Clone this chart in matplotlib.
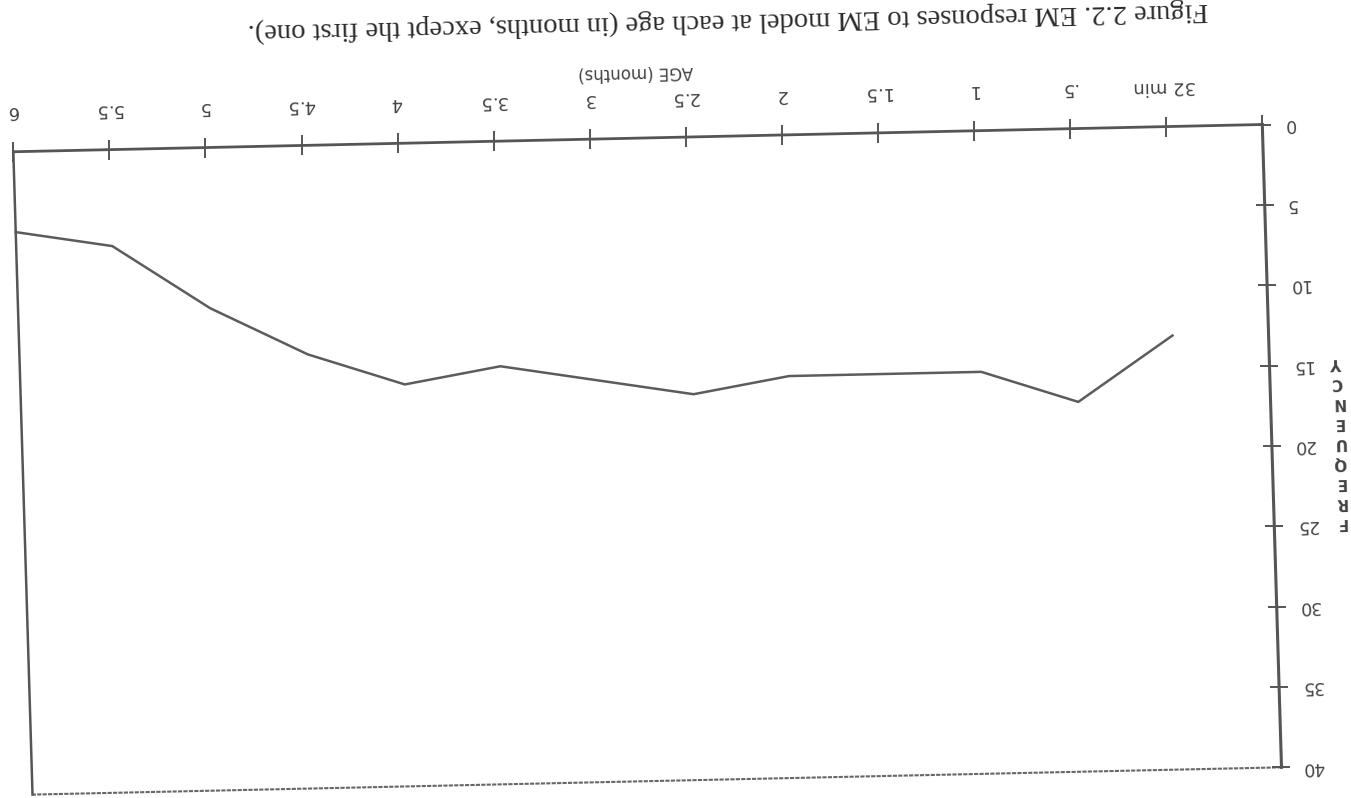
"""
Figure 2.2 -- EM responses to EM model at each age.
The reference is a scanned page that sits upside down (and slightly askew),
so the whole chart is drawn through one page transform.
"""
import numpy as np
import matplotlib.pyplot as plt
from matplotlib.transforms import Affine2D

ages = ["32 min", ".5", "1", "1.5", "2", "2.5", "3", "3.5", "4", "4.5", "5", "5.5", "6"]
freq = [13, 17, 15, 15, 15, 16, 15, 14, 15, 13, 10, 6, 5]
freq_ticks = [0, 5, 10, 15, 20, 25, 30, 35, 40]
title = "Figure 2.2. EM responses to EM model at each age (in months, except the first one)."

INK = "#555555"
TXT = "#444444"


def main():
    x_pos = np.arange(1, len(ages) + 1)
    xmax, ymax = len(ages), freq_ticks[-1]

    fig = plt.figure(figsize=(13.51, 7.98), dpi=100)
    ax = fig.add_axes([0.0097, 0.0381, 0.9247, 0.8059])
    ax.set_xlim(0, xmax)
    ax.set_ylim(0, ymax)
    ax.axis("off")

    # page is upside down, turned ~1.25 deg more and a bit sheared by the scanner
    x0, y0 = ax.transData.transform((0, 0))
    page = (Affine2D().translate(-x0, -y0).skew_deg(-0.46, 0)
            .rotate_deg(181.25).translate(1262.3, 673.5))
    T = ax.transData + page
    kw = dict(transform=T, clip_on=False)

    # frame
    ax.plot([0, xmax], [0, 0], color=INK, lw=2.0, **kw)
    ax.plot([0, 0], [0, ymax], color=INK, lw=2.2, **kw)
    ax.plot([xmax, xmax], [0, ymax], color=INK, lw=1.8, **kw)
    ax.plot([0, xmax], [ymax, ymax], color="#666666", lw=1.5, ls=(0, (2, 0.6)), **kw)

    # ticks crossing the axes
    ax.plot(np.arange(0, xmax + 1), np.zeros(xmax + 1), ls="none", marker="|",
            ms=14, mew=1.4, color=INK, **kw)
    ax.plot(np.zeros(len(freq_ticks)), freq_ticks, ls="none", marker="_",
            ms=13, mew=1.4, color=INK, **kw)

    # data
    ax.plot(x_pos, freq, color="#5c5c5c", lw=1.8, solid_joinstyle="miter", **kw)

    # tick labels
    for xp, lab in zip(x_pos, ages):
        ax.text(xp, -2.5, lab, rotation=181.25, ha="center", va="center",
                fontsize=13, color=TXT, **kw)
    for v in freq_ticks:
        ax.text(-0.22, v, str(v), rotation=181.7, ha="left", va="center",
                fontsize=12.5, color=TXT, **kw)

    ax.text(6.5, -4.1, "AGE (months)", rotation=181.25, ha="center", va="center",
            fontsize=12, color=TXT, **kw)
    ax.text(-0.70, 19.9, "\n".join("FREQUENCY"), rotation=181.7, ha="center",
            va="center", fontsize=11, fontweight="bold", linespacing=1.42,
            color=TXT, **kw)
    ax.text(5.52, -7.2, title, rotation=181.25, ha="center", va="center",
            family="Liberation Serif", fontsize=20.5, color="#2a2a2a", **kw)

    fig.savefig("out.png", dpi=100)


if __name__ == "__main__":
    main()
